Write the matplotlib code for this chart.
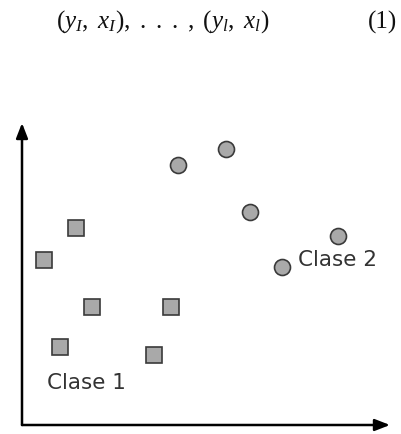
import matplotlib
matplotlib.use("Agg")
import matplotlib.pyplot as plt

# class 1 (squares) and class 2 (circles), in plot units
c1_x = [1.80, 0.73, 2.33, 4.97, 1.27, 4.40]
c1_y = [6.57, 5.50, 3.93, 3.93, 2.60, 2.33]
c2_x = [5.20, 6.80, 7.60, 10.53, 8.67]
c2_y = [8.67, 9.20, 7.10, 6.30, 5.27]

labels = ["Clase 1", "Clase 2"]
label_pos = [(0.83, 1.40), (9.20, 5.50)]

FILL = "#a9a9a9"
EDGE = "#3a3a3a"
INK = "#333333"

plt.rcParams["mathtext.fontset"] = "custom"
plt.rcParams["mathtext.rm"] = "Liberation Serif"
plt.rcParams["mathtext.it"] = "Liberation Serif:italic"

fig = plt.figure(figsize=(4.02, 4.34), dpi=100)
fig.patch.set_facecolor("white")
ax = fig.add_axes([22 / 402, 9 / 434, 368 / 402, 302 / 434])
ax.set_xlim(0, 368 / 30)
ax.set_ylim(0, 302 / 30)
ax.axis("off")

# axes drawn as arrows
arrow = dict(arrowstyle="-|>,head_length=0.9,head_width=0.35", color="black",
             lw=1.8, shrinkA=0, shrinkB=0)
ax.annotate("", xy=(0, 1.0), xytext=(0, 0), xycoords="axes fraction",
            arrowprops=arrow, annotation_clip=False)
ax.annotate("", xy=(1.0, 0), xytext=(0, 0), xycoords="axes fraction",
            arrowprops=arrow, annotation_clip=False)

ax.plot(c1_x, c1_y, "s", ms=11, mfc=FILL, mec=EDGE, mew=1.2, clip_on=False)
ax.plot(c2_x, c2_y, "o", ms=11.5, mfc=FILL, mec=EDGE, mew=1.2, clip_on=False)

for txt, (x, y) in zip(labels, label_pos):
    ax.text(x, y, txt, fontsize=15.5, color=INK, ha="left", va="center",
            family="DejaVu Sans")

fig.text(163 / 402, 1 - 22 / 434,
         r"$(y_I,\ x_I),\ .\ .\ .\ ,\ (y_l,\ x_l)$",
         fontsize=18, ha="center", va="center", color="#111111",
         math_fontfamily="custom")
fig.text(383 / 402, 1 - 22 / 434, "(1)", fontsize=18, ha="center", va="center",
         family="Liberation Serif", color="#111111")

fig.savefig("out.png", dpi=100, facecolor="white")
